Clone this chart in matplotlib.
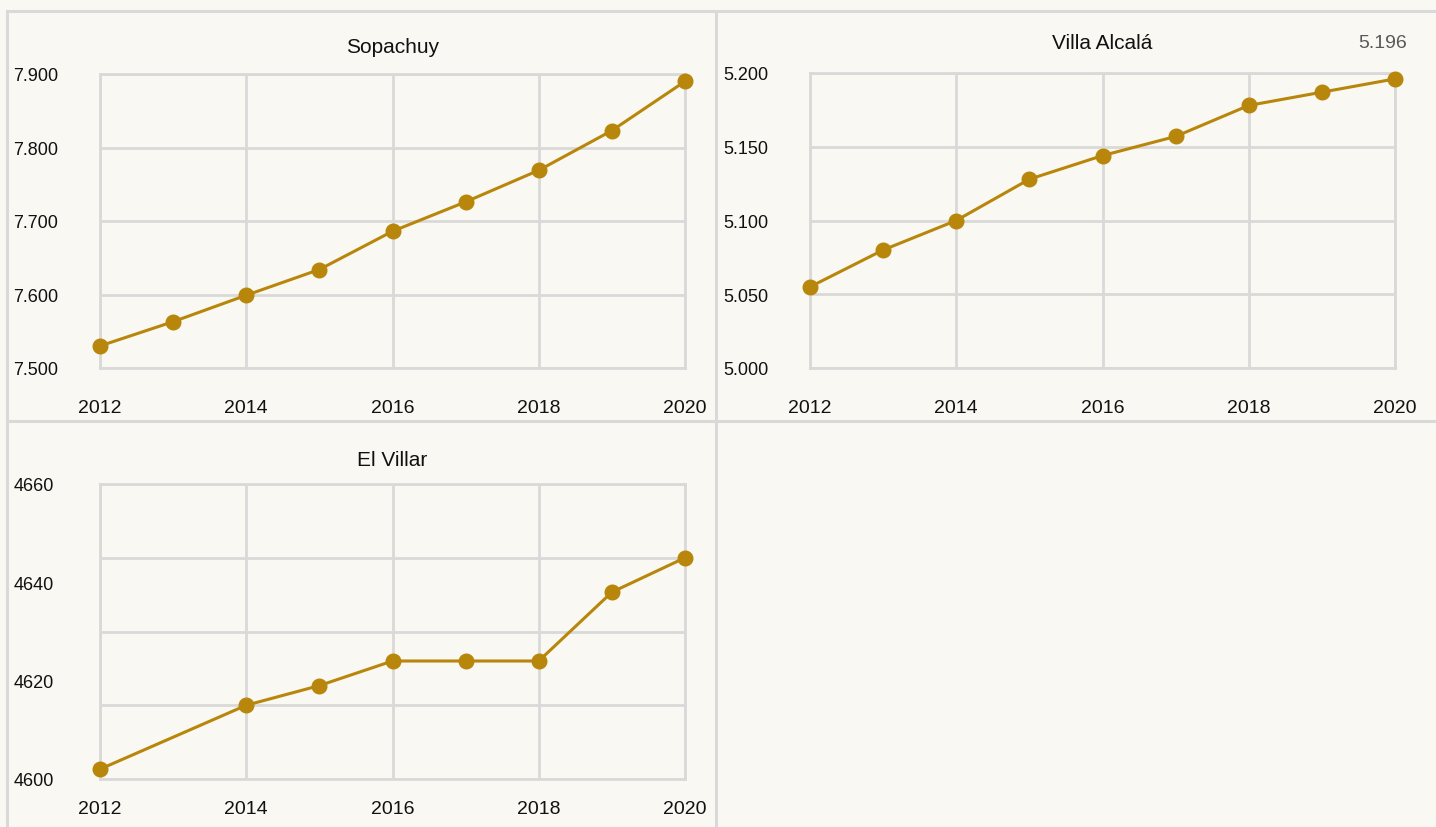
import matplotlib
matplotlib.use("Agg")

import matplotlib.pyplot as plt
from matplotlib.lines import Line2D
from matplotlib.ticker import FixedLocator, FuncFormatter

# Data
years = [2012, 2013, 2014, 2015, 2016, 2017, 2018, 2019, 2020]
sopachuy = [7530, 7563, 7599, 7634, 7686, 7726, 7769, 7823, 7890]
villa_alcala = [5055, 5080, 5100, 5128, 5144, 5157, 5178, 5187, 5196]
villar_years = [2012, 2014, 2015, 2016, 2017, 2018, 2019, 2020]
el_villar = [4602, 4615, 4619, 4624, 4624, 4624, 4638, 4645]

x_ticks = [2012, 2014, 2016, 2018, 2020]

W, H = 1436, 828
BG = "#F9F8F3"
GRID = "#D9D9D9"
LINE = "#B8860B"

plt.rcParams["font.family"] = ["Liberation Sans Narrow", "Liberation Sans", "DejaVu Sans"]

fig = plt.figure(figsize=(W / 100, H / 100), dpi=100, facecolor=BG)


def rect(x0, y0, x1, y1):
    return [x0 / W, 1 - y1 / H, (x1 - x0) / W, (y1 - y0) / H]


def dotted(v, pos=None):
    return f"{v:,.0f}".replace(",", ".")


def panel(r, xs, ys, title, ylim, grid_y, label_y, fmt, xpad, ypad, title_y):
    ax = fig.add_axes(r)
    ax.set_facecolor(BG)
    ax.plot(xs, ys, color=LINE, lw=2.2, marker="o", ms=10.5, clip_on=False, zorder=3)
    ax.set_xlim(2012, 2020)
    ax.set_ylim(*ylim)
    ax.set_xticks(x_ticks)
    ax.yaxis.set_major_locator(FixedLocator(label_y))
    ax.yaxis.set_major_formatter(FuncFormatter(fmt))
    ax.grid(True, axis="x", color=GRID, lw=2)
    for g in grid_y:
        ax.axhline(g, color=GRID, lw=2, zorder=1)
    ax.tick_params(length=0, labelsize=14, colors="#111111")
    ax.tick_params(axis="x", pad=xpad)
    ax.tick_params(axis="y", pad=ypad, labelsize=13)
    for s in ax.spines.values():
        s.set_color(GRID)
        s.set_linewidth(2)
    ax.set_axisbelow(True)
    ax.set_title(title, fontsize=15, color="#111111", pad=title_y)
    return ax


panel(rect(100, 75, 685, 369), years, sopachuy, "Sopachuy", (7500, 7900),
      [7500, 7600, 7700, 7800, 7900], [7500, 7600, 7700, 7800, 7900], dotted,
      22, 30, 16)

ax2 = panel(rect(810, 74, 1395, 369), years, villa_alcala, "Villa Alcalá", (5000, 5200),
            [5000, 5050, 5100, 5150, 5200], [5000, 5050, 5100, 5150, 5200], dotted,
            22, 30, 18)
ax2.annotate(dotted(villa_alcala[-1]), (years[-1], villa_alcala[-1]),
             xytext=(-9, 20), textcoords="offset points", ha="center", va="bottom",
             fontsize=14, color="#595959", annotation_clip=False)

panel(rect(100, 485, 685, 780), villar_years, el_villar, "El Villar", (4600, 4660),
      [4600, 4615, 4630, 4645, 4660], [4600, 4620, 4640, 4660], lambda v, p: f"{v:.0f}",
      15, 33, 14)

# panel frame lines
for xs, ys in [((7, W), (12, 12)), ((7, 7), (12, H)), ((716, 716), (12, H)),
               ((7, W), (422, 422))]:
    fig.add_artist(Line2D([x / W for x in xs], [1 - y / H for y in ys],
                          color=GRID, lw=2.2))

fig.savefig("out.png", dpi=100, facecolor=BG)
